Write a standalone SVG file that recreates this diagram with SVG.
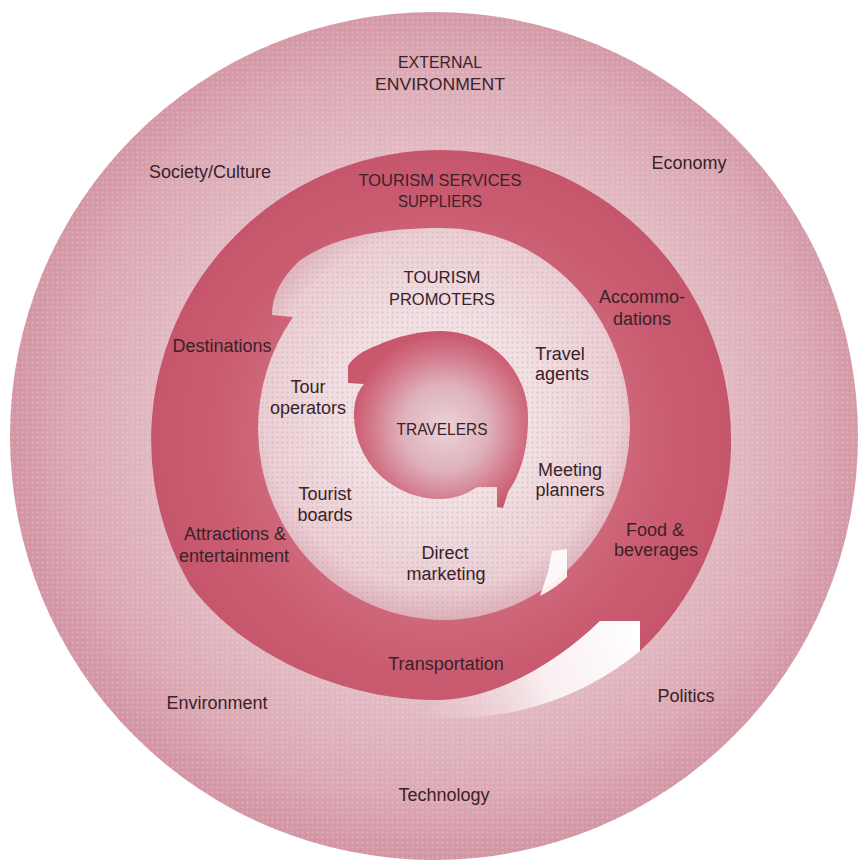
<svg xmlns="http://www.w3.org/2000/svg" width="861" height="867" viewBox="0 0 861 867">
  <defs>
    <radialGradient id="gOuter" cx="441" cy="430" r="430" gradientUnits="userSpaceOnUse">
      <stop offset="0.6" stop-color="#e4bec6"/>
      <stop offset="0.85" stop-color="#dba9b4"/>
      <stop offset="1" stop-color="#d395a3"/>
    </radialGradient>
    <radialGradient id="gRing" cx="441" cy="440" r="295" gradientUnits="userSpaceOnUse">
      <stop offset="0.6" stop-color="#cf687b"/>
      <stop offset="0.78" stop-color="#ca5c71"/>
      <stop offset="1" stop-color="#c5556b"/>
    </radialGradient>
    <radialGradient id="gInner" cx="441" cy="410" r="210" gradientUnits="userSpaceOnUse">
      <stop offset="0.45" stop-color="#f1e1e4"/>
      <stop offset="0.85" stop-color="#eacfd5"/>
      <stop offset="1" stop-color="#ddb0ba"/>
    </radialGradient>
    <radialGradient id="gSphere" cx="445" cy="428" r="95" gradientUnits="userSpaceOnUse">
      <stop offset="0" stop-color="#ead3d8"/>
      <stop offset="0.45" stop-color="#dfb2bc"/>
      <stop offset="0.8" stop-color="#d27487"/>
      <stop offset="1" stop-color="#c9586d"/>
    </radialGradient>
    <linearGradient id="gBand" x1="640" y1="640" x2="425" y2="712" gradientUnits="userSpaceOnUse">
      <stop offset="0" stop-color="#ffffff" stop-opacity="1"/>
      <stop offset="0.45" stop-color="#fbf1f3" stop-opacity="0.95"/>
      <stop offset="1" stop-color="#ecd0d6" stop-opacity="0.15"/>
    </linearGradient>
    <pattern id="dots" width="5" height="5" patternUnits="userSpaceOnUse">
      <circle cx="2.5" cy="2.5" r="1.1" fill="#c98a98" fill-opacity="0.35"/>
    </pattern>
    <pattern id="dotsLight" width="5" height="5" patternUnits="userSpaceOnUse">
      <circle cx="2.5" cy="2.5" r="1" fill="#ffffff" fill-opacity="0.25"/>
    </pattern>
    <style>
      .t { font-family: "Liberation Sans", Arial, sans-serif; font-size: 18px; fill: #3a2228; text-anchor: middle; }
      .c { font-size: 17px; }
    </style>
  </defs>

  <rect width="861" height="867" fill="#ffffff"/>

  <g id="external-environment">
    <circle cx="434" cy="436" r="424" fill="url(#gOuter)"/>
    <circle cx="434" cy="436" r="424" fill="url(#dotsLight)"/>
  </g>

  <g id="tourism-services-suppliers">
    <path fill="url(#gRing)" d="M 600 621 C 560 660 500 698 440 700 C 360 702 250 665 190 585 A 290 290 0 1 1 640 651 L 640 621 Z"/>
    <path fill="url(#gBand)" d="M 600 621 L 640 621 L 640 651 A 292 292 0 0 1 420 716 C 428 711 434 703 440 700 C 500 698 560 660 600 621 Z"/>
  </g>

  <g id="tourism-promoters">
    <path fill="url(#gInner)" d="M 293 317 L 272 315 C 272 296 280 280 298 262 C 330 238 380 228 440 228 A 188 200 0 0 1 630 428 A 188 196 0 0 1 444 620 A 186 192 0 0 1 258 430 A 190 196 0 0 1 293 317 Z"/>
    <path fill="url(#dots)" d="M 293 317 L 272 315 C 272 296 280 280 298 262 C 330 238 380 228 440 228 A 188 200 0 0 1 630 428 A 188 196 0 0 1 444 620 A 186 192 0 0 1 258 430 A 190 196 0 0 1 293 317 Z"/>
    <path fill="#ffffff" fill-opacity="0.9" d="M 552 551 L 567 549 L 567 577 Q 556 588 540 596 L 548 572 Z"/>
  </g>

  <g id="travelers">
    <path fill="url(#gSphere)" d="M 441 331 A 87 86 0 0 1 528 418 C 528 455 518 478 508 492 L 503 508 L 497 507 L 497 487 L 477 487 C 466 495 453 499 440 499 A 86 84 0 0 1 354 416 C 354 402 357 392 364 384 L 348 383 L 348 366 C 353 357 364 350 378 345 C 398 336 420 331 441 331 Z"/>
  </g>

  <g id="labels">
    <text class="t c" x="440" y="68" textLength="84" lengthAdjust="spacingAndGlyphs">EXTERNAL</text>
    <text class="t c" x="440" y="90" textLength="130" lengthAdjust="spacingAndGlyphs">ENVIRONMENT</text>
    <text class="t" x="210" y="178">Society/Culture</text>
    <text class="t" x="689" y="169">Economy</text>
    <text class="t c" x="440" y="186" textLength="163" lengthAdjust="spacingAndGlyphs">TOURISM SERVICES</text>
    <text class="t c" x="440" y="207" textLength="84" lengthAdjust="spacingAndGlyphs">SUPPLIERS</text>
    <text class="t c" x="442" y="283" textLength="77" lengthAdjust="spacingAndGlyphs">TOURISM</text>
    <text class="t c" x="442" y="305" textLength="106" lengthAdjust="spacingAndGlyphs">PROMOTERS</text>
    <text class="t" x="642" y="303">Accommo-</text>
    <text class="t" x="642" y="325">dations</text>
    <text class="t" x="222" y="352">Destinations</text>
    <text class="t" x="560" y="360">Travel</text>
    <text class="t" x="562" y="380">agents</text>
    <text class="t" x="308" y="393">Tour</text>
    <text class="t" x="308" y="414">operators</text>
    <text class="t c" x="442" y="435" textLength="91" lengthAdjust="spacingAndGlyphs">TRAVELERS</text>
    <text class="t" x="570" y="476">Meeting</text>
    <text class="t" x="570" y="496">planners</text>
    <text class="t" x="325" y="500">Tourist</text>
    <text class="t" x="325" y="521">boards</text>
    <text class="t" x="235" y="540">Attractions &amp;</text>
    <text class="t" x="234" y="562">entertainment</text>
    <text class="t" x="445" y="559">Direct</text>
    <text class="t" x="446" y="580">marketing</text>
    <text class="t" x="655" y="536">Food &amp;</text>
    <text class="t" x="656" y="556">beverages</text>
    <text class="t" x="446" y="670">Transportation</text>
    <text class="t" x="217" y="709">Environment</text>
    <text class="t" x="686" y="702">Politics</text>
    <text class="t" x="444" y="801">Technology</text>
  </g>

  <g id="connectors"></g>
</svg>
